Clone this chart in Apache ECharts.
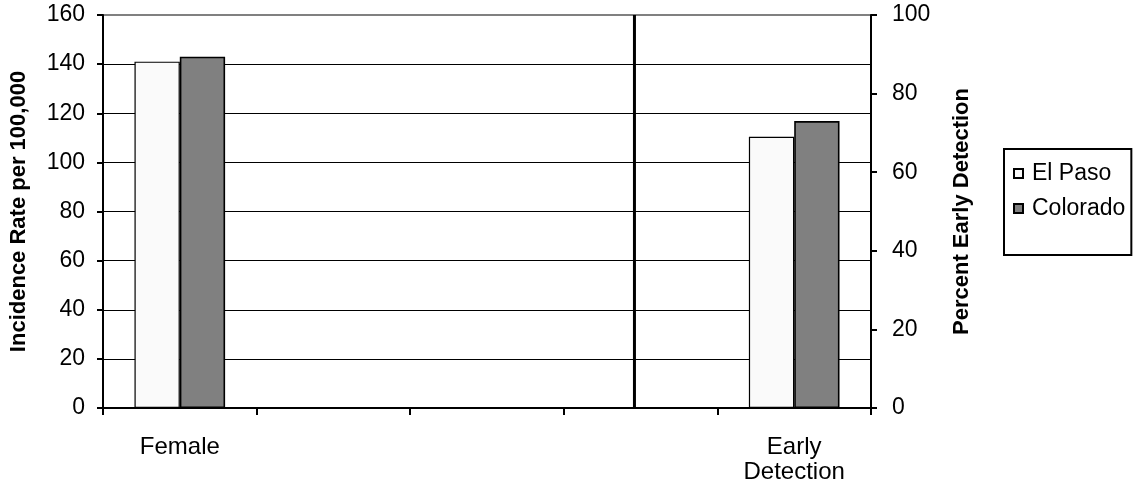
<!DOCTYPE html>
<html>
<head>
<meta charset="utf-8">
<title>Incidence Rate and Early Detection</title>
<script src="https://cdn.jsdelivr.net/npm/echarts@6/dist/echarts.min.js"></script>
<style>
  html, body { margin: 0; padding: 0; background: #ffffff; }
  #chart { width: 1136px; height: 491px; }
</style>
</head>
<body>
<div id="chart"></div>
<script>
// Category slots along the bottom axis (three empty spacer slots in between)
const categories = ['Female', '', '', '', 'Early\nDetection'];

// Incidence rate per 100,000 (left axis)
const elPasoRate = [141, null, null, null, null];
const coloradoRate = [143, null, null, null, null];

// Percent early detection (right axis)
const elPasoEarly = [null, null, null, null, 69];
const coloradoEarly = [null, null, null, null, 73];

// Left and right axis tick values
const rateTicks = [0, 20, 40, 60, 80, 100, 120, 140, 160];
const percentTicks = [0, 20, 40, 60, 80, 100];

// Position of the divider between the two panels, in category-slot units
const dividerPos = 3.46;

const FONT = "'Liberation Sans', Arial, sans-serif";

const chart = echarts.init(document.getElementById('chart'), null, { renderer: 'canvas' });

const splitColors = rateTicks.map((v, i) => i === rateTicks.length - 1 ? 'rgba(0,0,0,0)' : '#000000');

const barBase = {
  type: 'bar',
  barGap: '0%',
  barCategoryGap: '41%',
  animation: false
};

chart.setOption({
  animation: false,
  backgroundColor: '#ffffff',
  grid: {
    left: 101, right: 265, top: 15, bottom: 83,
    show: true,
    borderColor: '#808080',
    borderWidth: 2,
    backgroundColor: 'rgba(0,0,0,0)'
  },
  legend: {
    orient: 'vertical',
    left: 1004,
    top: 149,
    data: [{ name: 'El Paso', icon: 'rect' }, { name: 'Colorado', icon: 'rect' }],
    itemWidth: 9,
    itemHeight: 9,
    itemGap: 12,
    padding: [13, 6, 35, 9],
    borderColor: '#000000',
    borderWidth: 2,
    selectedMode: false,
    textStyle: { fontFamily: FONT, fontSize: 23, color: '#000000', padding: [0, 0, 0, 4] }
  },
  xAxis: [
    {
      type: 'category',
      data: categories,
      position: 'bottom',
      axisLine: { show: true, lineStyle: { color: '#000000', width: 2 } },
      axisTick: { show: true, length: 7, interval: 0, lineStyle: { color: '#000000', width: 2 } },
      axisLabel: {
        interval: 0, margin: 27,
        fontFamily: FONT, fontSize: 24, color: '#000000', lineHeight: 25
      },
      splitLine: { show: false }
    },
    {
      type: 'category',
      data: categories,
      show: false
    },
    {
      type: 'value',
      min: 0,
      max: categories.length,
      show: false
    }
  ],
  yAxis: [
    {
      type: 'value',
      position: 'left',
      min: rateTicks[0],
      max: rateTicks[rateTicks.length - 1],
      interval: 20,
      name: 'Incidence Rate per 100,000',
      nameLocation: 'middle',
      nameGap: 73,
      nameTextStyle: { fontFamily: FONT, fontSize: 22, fontWeight: 'bold', color: '#000000' },
      axisLine: { show: true, lineStyle: { color: '#000000', width: 2 } },
      axisTick: { show: true, length: 6, lineStyle: { color: '#000000', width: 2 } },
      axisLabel: { margin: 18, fontFamily: FONT, fontSize: 23, color: '#000000' },
      splitLine: { show: true, lineStyle: { color: splitColors, width: 1 } }
    },
    {
      type: 'value',
      position: 'right',
      min: percentTicks[0],
      max: percentTicks[percentTicks.length - 1],
      interval: 20,
      name: 'Percent Early Detection',
      nameLocation: 'middle',
      nameGap: 80,
      nameTextStyle: { fontFamily: FONT, fontSize: 22, fontWeight: 'bold', color: '#000000' },
      axisLine: { show: true, lineStyle: { color: '#000000', width: 2 } },
      axisTick: { show: true, length: 6, lineStyle: { color: '#000000', width: 2 } },
      axisLabel: { margin: 21, fontFamily: FONT, fontSize: 23, color: '#000000' },
      splitLine: { show: false }
    }
  ],
  series: [
    Object.assign({}, barBase, {
      name: 'El Paso', xAxisIndex: 0, yAxisIndex: 0, data: elPasoRate,
      itemStyle: { color: '#fafafa', borderColor: '#000000', borderWidth: 1.2 }
    }),
    Object.assign({}, barBase, {
      name: 'Colorado', xAxisIndex: 0, yAxisIndex: 0, data: coloradoRate,
      itemStyle: { color: '#808080', borderColor: '#000000', borderWidth: 1.6 }
    }),
    Object.assign({}, barBase, {
      name: 'El Paso', xAxisIndex: 1, yAxisIndex: 1, data: elPasoEarly,
      itemStyle: { color: '#fafafa', borderColor: '#000000', borderWidth: 1.2 }
    }),
    Object.assign({}, barBase, {
      name: 'Colorado', xAxisIndex: 1, yAxisIndex: 1, data: coloradoEarly,
      itemStyle: { color: '#808080', borderColor: '#000000', borderWidth: 1.6 }
    }),
    {
      name: 'divider',
      type: 'line',
      xAxisIndex: 2,
      yAxisIndex: 0,
      data: [[dividerPos, rateTicks[0]], [dividerPos, rateTicks[rateTicks.length - 1]]],
      symbol: 'none',
      lineStyle: { color: '#000000', width: 3 },
      silent: true,
      z: 5
    }
  ]
});
</script>
</body>
</html>
